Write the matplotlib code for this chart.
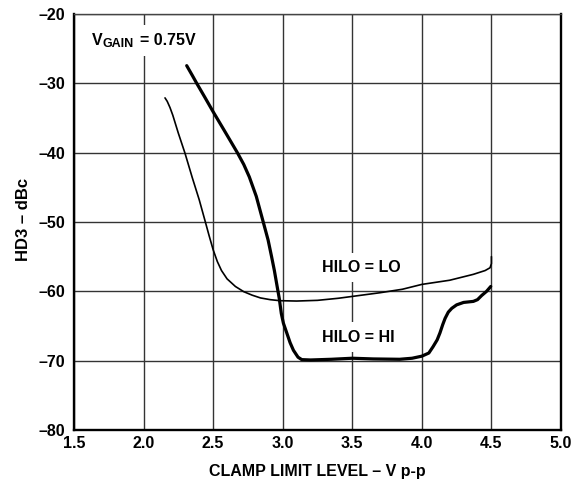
import matplotlib
matplotlib.use("Agg")
import matplotlib.pyplot as plt

plt.rcParams['font.family'] = ['Liberation Sans', 'DejaVu Sans']
plt.rcParams['font.weight'] = 'bold'

# HD3 vs clamp limit level, HILO = LO (thin trace)
lo_x = [2.154, 2.17, 2.19, 2.21, 2.25, 2.298, 2.35, 2.40, 2.44, 2.47, 2.50, 2.53,
        2.56, 2.60, 2.66, 2.72, 2.78, 2.84, 2.91, 2.98, 3.10, 3.25, 3.40, 3.55,
        3.70, 3.86, 4.00, 4.20, 4.37, 4.455, 4.49, 4.50, 4.50]
lo_y = [-32.1, -32.6, -33.5, -34.6, -37.2, -40.1, -43.6, -46.8, -49.7, -51.9, -54.0, -55.7,
        -57.0, -58.2, -59.3, -60.05, -60.55, -60.95, -61.2, -61.35, -61.4, -61.3, -61.0, -60.6,
        -60.2, -59.7, -59.0, -58.4, -57.55, -57.0, -56.6, -56.0, -55.0]

# HD3 vs clamp limit level, HILO = HI (thick trace)
hi_x = [2.31, 2.35, 2.382, 2.44, 2.50, 2.58, 2.63, 2.674, 2.72, 2.76, 2.81, 2.86, 2.895,
        2.92, 2.94, 2.96, 2.975, 2.99, 3.005, 3.03, 3.053, 3.077, 3.11, 3.137, 3.2,
        3.35, 3.5, 3.65, 3.84, 3.93, 4.0, 4.05, 4.08, 4.11, 4.13, 4.15, 4.167, 4.19,
        4.215, 4.25, 4.30, 4.37, 4.40, 4.43, 4.465, 4.495]
hi_y = [-27.45, -28.85, -30.0, -32.0, -34.1, -36.8, -38.5, -40.0, -41.7, -43.5, -46.3, -50.0, -52.6,
        -55.0, -57.0, -59.3, -61.0, -63.2, -64.6, -66.05, -67.4, -68.5, -69.5, -69.85, -69.9,
        -69.8, -69.65, -69.75, -69.8, -69.65, -69.35, -68.9, -68.0, -67.0, -66.0, -64.8, -63.9, -63.0,
        -62.45, -61.95, -61.6, -61.45, -61.2, -60.6, -60.0, -59.3]

x_ticks = [1.5, 2.0, 2.5, 3.0, 3.5, 4.0, 4.5, 5.0]
y_ticks = [-80, -70, -60, -50, -40, -30, -20]

fig = plt.figure(figsize=(5.79, 4.79), dpi=100)
ax = fig.add_axes([74 / 579, 49 / 479, 487 / 579, 416 / 479])

ax.set_xlim(1.5, 5.0)
ax.set_ylim(-80, -20)
ax.set_xticks(x_ticks)
ax.set_yticks(y_ticks)
ax.set_xticklabels([f"{v:.1f}" for v in x_ticks])
ax.set_yticklabels([f"\u2013{abs(v)}" for v in y_ticks])
ax.tick_params(axis='x', length=0, labelsize=11.5, pad=4.5)
ax.tick_params(axis='y', length=0, labelsize=11.5, pad=6.5)
for lab in ax.get_xticklabels() + ax.get_yticklabels():
    lab.set_fontweight('bold')

ax.grid(True, color='#333333', linewidth=1.0)
ax.set_axisbelow(True)
for side in ['left', 'bottom', 'right']:
    ax.spines[side].set_linewidth(1.7)
    ax.spines[side].set_color('black')
ax.spines['top'].set_linewidth(1.0)
ax.spines['top'].set_color('#444444')

ax.plot(lo_x, lo_y, color='black', linewidth=1.2, solid_joinstyle='round',
        solid_capstyle='round', zorder=3)
ax.plot(hi_x, hi_y, color='black', linewidth=2.3, solid_joinstyle='round',
        solid_capstyle='round', zorder=3)

ax.set_xlabel("CLAMP LIMIT LEVEL \u2013 V p-p", fontsize=11.5, fontweight='bold', labelpad=9)
ax.set_ylabel("HD3 \u2013 dBc", fontsize=12, fontweight='bold')
ax.yaxis.set_label_coords(-0.088, 0.507)

# Gain setting annotation: V with a GAIN subscript, then the value on a white patch
ax.text(1.627, -24.47, "V", fontsize=11.5, fontweight='bold', ha='left', va='baseline', zorder=5)
ax.text(1.708, -24.80, "GAIN", fontsize=9.0, fontweight='bold', ha='left', va='baseline', zorder=5)
ax.text(1.974, -24.47, "= 0.75V", fontsize=11.5, fontweight='bold', ha='left', va='baseline',
        bbox=dict(facecolor='white', edgecolor='none', boxstyle='square,pad=0.5'), zorder=4)

box = dict(facecolor='white', edgecolor='none', boxstyle='square,pad=0.45')
ax.text(3.281, -57.17, "HILO = LO", fontsize=11.5, fontweight='bold',
        ha='left', va='baseline', bbox=box, zorder=2)
ax.text(3.281, -67.26, "HILO = HI", fontsize=11.5, fontweight='bold',
        ha='left', va='baseline', bbox=box, zorder=2)

fig.savefig("out.png", dpi=100)
